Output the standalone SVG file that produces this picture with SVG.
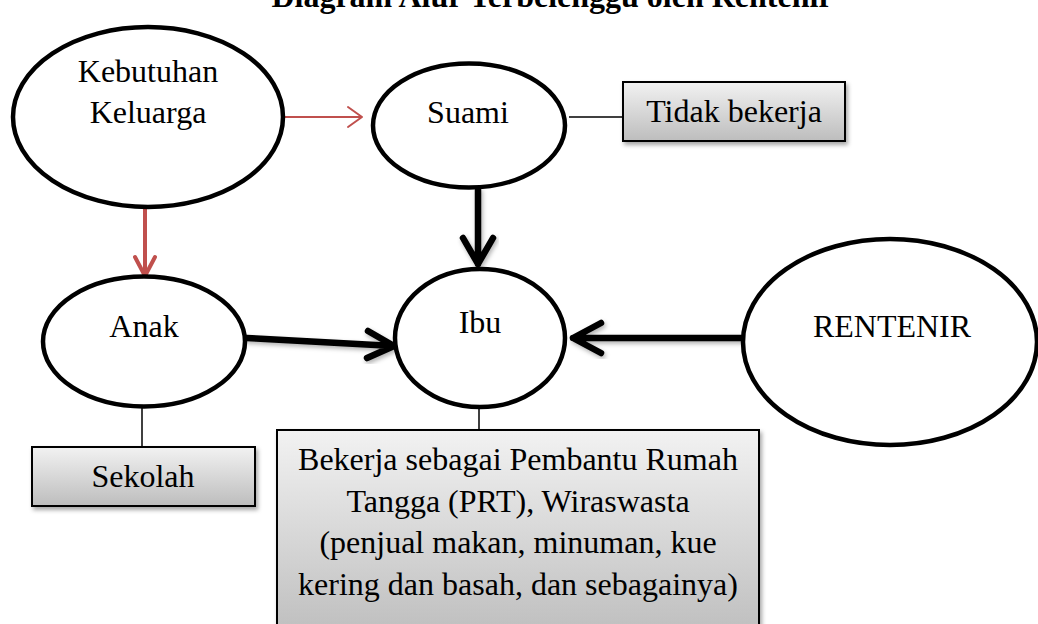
<svg xmlns="http://www.w3.org/2000/svg" width="1038" height="624" viewBox="0 0 1038 624">
  <style>
    .t { font-family: "Liberation Serif", "Times New Roman", serif; font-size: 32px; fill: #000; text-anchor: middle; }
    .title { font-family: "Liberation Serif", "Times New Roman", serif; font-size: 32px; font-weight: bold; fill: #000; text-anchor: middle; }
    .ell { fill: #fff; stroke: #000; stroke-width: 4.5; }
    .box { fill: url(#grad); stroke: #000; stroke-width: 2; filter: url(#shadow); }
    .thin { stroke: #000; stroke-width: 1.5; fill: none; }
    .blk { stroke: #000; stroke-width: 6.5; fill: none; stroke-linecap: round; stroke-linejoin: round; filter: url(#ashadow); }
    .red { stroke: #C0504D; fill: none; stroke-linecap: round; stroke-linejoin: round; }
  </style>
  <defs>
    <linearGradient id="grad" x1="0" y1="0" x2="0" y2="1">
      <stop offset="0" stop-color="#f2f2f2"/>
      <stop offset="1" stop-color="#bdbdbd"/>
    </linearGradient>
    <filter id="shadow" x="-10%" y="-10%" width="130%" height="140%">
      <feDropShadow dx="2" dy="3" stdDeviation="2" flood-color="#000" flood-opacity="0.35"/>
    </filter>
    <filter id="ashadow" x="-20%" y="-20%" width="140%" height="140%">
      <feDropShadow dx="1.5" dy="2.5" stdDeviation="2" flood-color="#000" flood-opacity="0.3"/>
    </filter>
  </defs>
  <rect width="1038" height="624" fill="#fff"/>

  <text class="title" x="552" y="7">Diagram Alur Terbelenggu oleh Rentenir</text>

  <g id="connectors">
    <!-- Kebutuhan -> Suami (red, thin) -->
    <path class="red" stroke-width="2" d="M283,117 H362 M348,107 L362,117 L348,127"/>
    <!-- Kebutuhan -> Anak (red, thick) -->
    <path class="red" stroke-width="4" d="M145,208 V276 M135,257 L145,276 L155,257"/>
    <!-- Suami -> Ibu -->
    <path class="blk" d="M478,190 V264 M463,238 L478,264 L493,238"/>
    <!-- Anak -> Ibu -->
    <path class="blk" d="M247,338 L394,346 M368,331 L394,346 L367,358"/>
    <!-- RENTENIR -> Ibu -->
    <path class="blk" d="M743,338 H573 M601,323 L573,338 L601,353"/>
    <!-- Suami - Tidak bekerja -->
    <line class="thin" x1="569" y1="117" x2="623" y2="117"/>
    <!-- Anak - Sekolah -->
    <line class="thin" x1="142" y1="407" x2="142" y2="447"/>
    <!-- Ibu - box -->
    <line class="thin" x1="479" y1="408" x2="479" y2="430"/>
  </g>

  <g id="kebutuhan">
    <ellipse class="ell" cx="148" cy="117" rx="135" ry="90"/>
    <text class="t" x="148" y="82">Kebutuhan</text>
    <text class="t" x="148" y="123">Keluarga</text>
  </g>

  <g id="suami">
    <ellipse class="ell" cx="469" cy="125.5" rx="96" ry="62"/>
    <text class="t" x="468" y="123">Suami</text>
  </g>

  <g id="tidak-bekerja">
    <rect class="box" x="623" y="82" width="222" height="59"/>
    <text class="t" x="734" y="122">Tidak bekerja</text>
  </g>

  <g id="anak">
    <ellipse class="ell" cx="144" cy="341.5" rx="101" ry="65"/>
    <text class="t" x="144" y="337">Anak</text>
  </g>

  <g id="sekolah">
    <rect class="box" x="32" y="447" width="223" height="59"/>
    <text class="t" x="143" y="487">Sekolah</text>
  </g>

  <g id="ibu">
    <ellipse class="ell" cx="480" cy="338" rx="85" ry="69"/>
    <text class="t" x="480" y="333">Ibu</text>
  </g>

  <g id="rentenir">
    <ellipse class="ell" cx="890" cy="342" rx="147" ry="103"/>
    <text class="t" x="892" y="337">RENTENIR</text>
  </g>

  <g id="pekerjaan-ibu">
    <rect class="box" x="277" y="430" width="482" height="210"/>
    <text class="t" x="518" y="470">Bekerja sebagai Pembantu Rumah</text>
    <text class="t" x="518" y="512">Tangga (PRT), Wiraswasta</text>
    <text class="t" x="518" y="553">(penjual makan, minuman, kue</text>
    <text class="t" x="518" y="595">kering dan basah, dan sebagainya)</text>
  </g>
</svg>
